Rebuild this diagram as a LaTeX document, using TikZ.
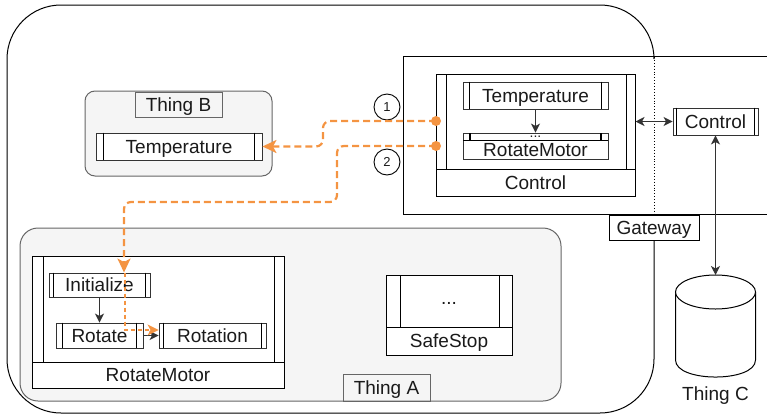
\documentclass[tikz,border=0pt]{standalone}
\usepackage{fontspec}
\setmainfont{Liberation Sans}
\usetikzlibrary{arrows.meta,calc}
\definecolor{ink}{HTML}{1A1A1A}
\definecolor{grpfill}{HTML}{F5F5F5}
\definecolor{grpline}{HTML}{666666}
\definecolor{dark}{HTML}{333333}
\definecolor{flow}{RGB}{244,148,66}
% double side bars of a component box: node, inset, bar width
\newcommand\sidebars[3]{%
  \draw[line width=#3] ([xshift=#2]#1.north west) -- ([xshift=#2]#1.south west)
    ([xshift=-#2]#1.north east) -- ([xshift=-#2]#1.south east);}
\begin{document}
\begin{tikzpicture}[x=1pt,y=-1pt,
  every node/.style={font=\fontsize{19}{22}\selectfont, text=ink, text height=17.2pt, text depth=4pt},
  grp/.style={draw=grpline, fill=grpfill, rounded corners=#1, line width=1pt, inner sep=0pt},
  grp/.default=10pt,
  lbl/.style={draw=grpline, line width=0.8pt, inner sep=0pt},
  comp/.style={draw=dark, fill=white, line width=0.9pt, inner sep=0pt},
  cont/.style={draw=black, fill=white, line width=1pt, inner sep=0pt},
  dots/.style={text height=, text depth=},
  dk/.style={draw=dark, line width=1pt},
  dkhead/.style={-{Stealth[length=9pt,width=9pt,inset=2.5pt]}},
  dkboth/.style={{Stealth[length=9pt,width=9pt,inset=2.5pt]}-{Stealth[length=9pt,width=9pt,inset=2.5pt]}},
  flowline/.style={draw=flow, line width=2.2pt, dash pattern=on 7pt off 4pt, rounded corners=7pt,
    -{Stealth[length=14pt,width=13pt,inset=3.5pt]}},
  flowthin/.style={draw=flow, line width=1.2pt, dash pattern=on 4pt off 3pt,
    -{Stealth[length=11pt,width=11pt,inset=3pt]}},
  num/.style={circle, draw=black, line width=0.9pt, minimum size=26pt, inner sep=0pt,
    text height=, text depth=, font=\fontsize{13}{15}\selectfont}]
\useasboundingbox (0,0) rectangle (767,415);

% system boundary
\draw[line width=1pt, rounded corners=54pt] (654,57) -- (654,5) -- (7,5) -- (7,413) -- (654,413) -- (654,240);
\draw[dotted, line width=0.9pt] (654,57) -- (654,214);

% gateway region
\draw[line width=1pt] (767,56) -- (403,56) -- (403,214) -- (767,214);
\node[draw=black, fill=white, line width=0.9pt, minimum width=90pt, minimum height=25pt, inner sep=0pt] (gwlbl) at (654,227.5) {Gateway};

% Thing B
\node[grp=10pt, minimum width=187pt, minimum height=85pt] (thingB) at (178.5,133.5) {};
\node[lbl, minimum width=87pt, minimum height=25pt] (thingBlbl) at (178.5,104.5) {Thing B};
\node[comp, minimum width=166pt, minimum height=27pt] (tempB) at (179,146.5) {Temperature};
\sidebars{tempB}{8pt}{1.6pt}

% Thing A
\node[grp=18pt, minimum width=541pt, minimum height=173pt] (thingA) at (290.5,314.5) {};
\node[lbl, minimum width=87pt, minimum height=27pt] (thingAlbl) at (386.5,387.5) {Thing A};

\node[cont, minimum width=252pt, minimum height=132pt] (rm) at (158,322) {};
\draw[line width=1pt] (32,362) -- (284,362) (43,256) -- (43,362) (274,256) -- (274,362);
\node (rmlbl) at (158,375) {RotateMotor};

\node[comp, minimum width=101pt, minimum height=24pt] (init) at (99.5,285) {Initialize};
\sidebars{init}{5pt}{1.6pt}
\node[comp, minimum width=87pt, minimum height=25pt] (rotate) at (99.5,335.5) {Rotate};
\sidebars{rotate}{7pt}{1.3pt}
\node[comp, minimum width=107pt, minimum height=25pt] (rotation) at (212.5,335.5) {Rotation};
\sidebars{rotation}{5pt}{1.6pt}

\draw[dk, dkhead] (init.south) -- (rotate.north);
\draw[dk, dkhead] (rotate.east) -- (rotation.west);

\node[cont, minimum width=126pt, minimum height=80pt] (safe) at (449,315) {};
\draw[line width=1pt] (386,327) -- (512,327) (400,275) -- (400,327) (499,275) -- (499,327);
\node[dots] (safedots) at (449,303.5) {...};
\node (safelbl) at (449,341) {SafeStop};

% gateway side: Control
\node[cont, minimum width=199pt, minimum height=122pt] (gwctl) at (535.5,135) {};
\draw[line width=1pt] (436,169) -- (635,169) (446,74) -- (446,169) (626,74) -- (626,169);
\node (gwctllbl) at (535.5,182.5) {Control};

\node[comp, minimum width=145pt, minimum height=27pt] (gwtemp) at (535.5,95.5) {Temperature};
\sidebars{gwtemp}{7pt}{1.6pt}
\node[comp, minimum width=145pt, minimum height=26pt] (gwrm) at (535.5,146) {};
\draw[line width=0.9pt] (463,140) -- (608,140);
\draw[line width=1.4pt] (470,133) -- (470,140) (601,133) -- (601,140);
\node[dots, font=\fontsize{14}{16}\selectfont] (gwdots) at (535.5,136.8) {...};
\node (gwrmlbl) at (535.5,150) {RotateMotor};
\draw[dk, dkhead] (gwtemp.south) -- (gwrm.north);

% Thing C side
\node[comp, minimum width=85pt, minimum height=27pt] (ctl) at (715.5,121.5) {Control};
\sidebars{ctl}{4pt}{1.6pt}

\draw[line width=1pt, fill=white] (675.5,292) -- (675.5,360) .. controls (675.5,382.7) and (755.5,382.7) .. (755.5,360) -- (755.5,292);
\draw[line width=1pt, fill=white] (715.5,292) ellipse [x radius=40, y radius=17];
\coordinate (thingC) at (715.5,275);
\node (thingClbl) at (715.5,394) {Thing C};

\draw[dk, dkboth] (ctl.west -| gwctl.east) -- (ctl.west);
\draw[dk, dkboth] (ctl.south) -- (thingC);

% message numbers
\node[num] (n1) at (387,107) {1};
\node[num] (n2) at (387,162) {2};

% message flows
\coordinate (o1) at (436,121);
\coordinate (o2) at (436,146);
\draw[flowline] (o1) -- (323,121) -- (323,146.5) -- (tempB.east);
\draw[flowline] (o2) -- (337,146) -- (337,202) -- (124,202) -- ([xshift=24.5pt]init.north);
\draw[flowthin] ([xshift=25.5pt]init.north) -- (125,330) -- ([yshift=5.5pt]rotation.west);
\fill[flow] (o1) circle[radius=5];
\fill[flow] (o2) circle[radius=5];
\end{tikzpicture}
\end{document}
